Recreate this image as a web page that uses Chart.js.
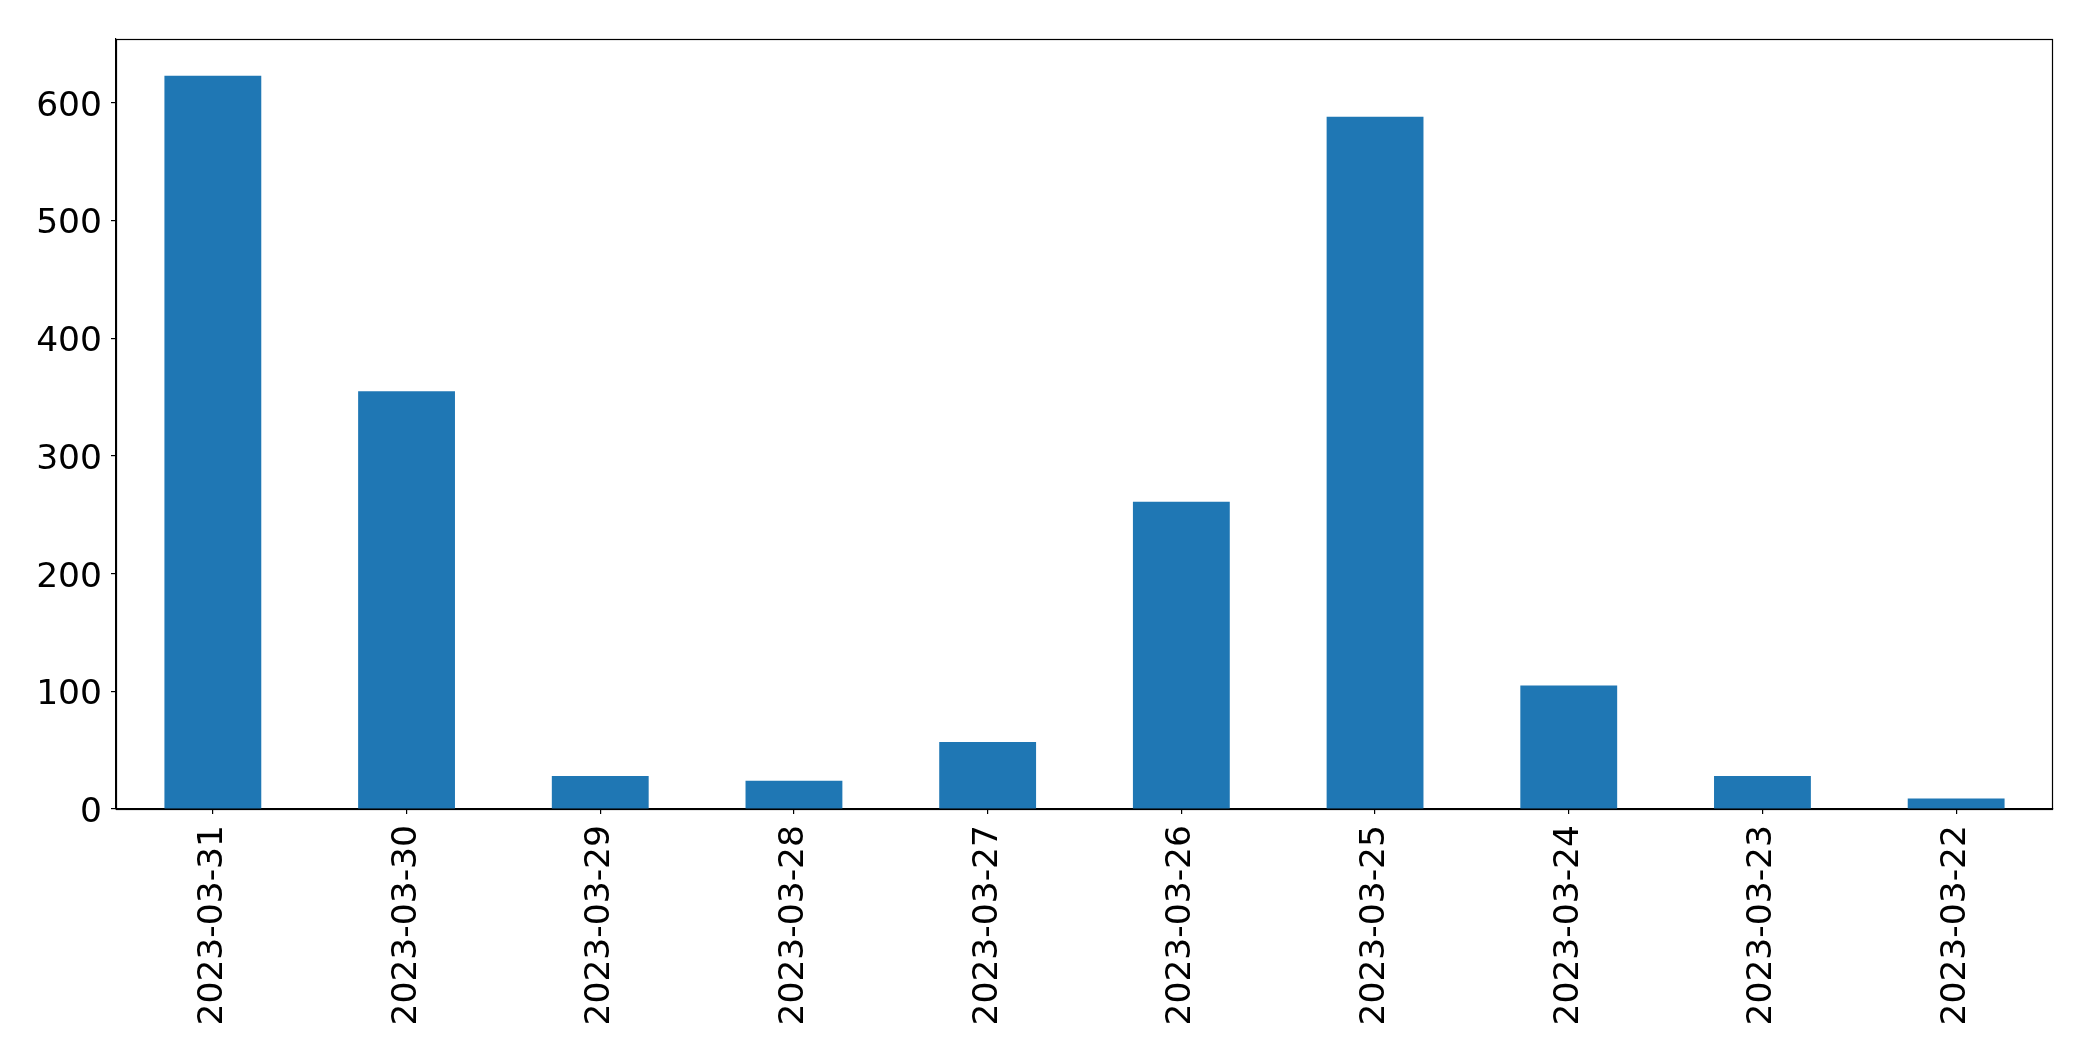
<!DOCTYPE html>
<html>
<head>
<meta charset="utf-8">
<script src="https://cdn.jsdelivr.net/npm/chart.js@4"></script>
<style>
  html, body { margin: 0; padding: 0; background: #ffffff; }
  #wrap { width: 2093px; height: 1061px; }
</style>
</head>
<body>
<div id="wrap"><canvas id="c" width="2093" height="1061"></canvas></div>
<script>
const categories = ["2023-03-31", "2023-03-30", "2023-03-29", "2023-03-28", "2023-03-27",
                    "2023-03-26", "2023-03-25", "2023-03-24", "2023-03-23", "2023-03-22"];
const values = [623, 355, 28, 24, 57, 261, 588, 105, 28, 9];
const yTickStep = 100;

const framePlugin = {
  id: 'frame',
  afterDraw(chart) {
    const a = chart.chartArea;
    const ctx = chart.ctx;
    ctx.save();
    ctx.strokeStyle = '#000000';
    ctx.lineWidth = 1.2;
    ctx.strokeRect(Math.round(a.left) + 0.5, Math.round(a.top) + 0.5,
                   Math.round(a.right - a.left) - 1, Math.round(a.bottom - a.top));
    ctx.restore();
  }
};

const yMax = Math.max(...values) * 1.05;

new Chart(document.getElementById('c'), {
  type: 'bar',
  data: {
    labels: categories,
    datasets: [{
      data: values,
      backgroundColor: '#1f77b4',
      borderWidth: 0,
      barPercentage: 0.5,
      categoryPercentage: 1.0
    }]
  },
  options: {
    responsive: false,
    animation: false,
    devicePixelRatio: 1,
    layout: { padding: { left: 0, right: 40, top: 39, bottom: 0 } },
    plugins: { legend: { display: false }, tooltip: { enabled: false } },
    scales: {
      x: {
        grid: { display: true, offset: false, drawOnChartArea: false, drawTicks: true, tickLength: 5, color: '#000000', lineWidth: 1.2 },
        border: { display: true, color: '#000000', width: 1.2 },
        ticks: {
          color: '#000000',
          font: { family: 'DejaVu Sans', size: 34.5 },
          minRotation: 90, maxRotation: 90,
          padding: 11,
          autoSkip: false
        },
        afterFit(scale) { scale.height = 252; }
      },
      y: {
        min: 0,
        max: yMax,
        grid: { display: true, drawOnChartArea: false, drawTicks: true, tickLength: 5, color: '#000000', lineWidth: 1.2 },
        border: { display: true, color: '#000000', width: 1.2 },
        ticks: {
          color: '#000000',
          font: { family: 'DejaVu Sans', size: 34.5 },
          stepSize: yTickStep,
          includeBounds: false,
          padding: 9,
          labelOffset: 4
        },
        afterFit(scale) { scale.width = 116; }
      }
    }
  },
  plugins: [framePlugin]
});
</script>
</body>
</html>
